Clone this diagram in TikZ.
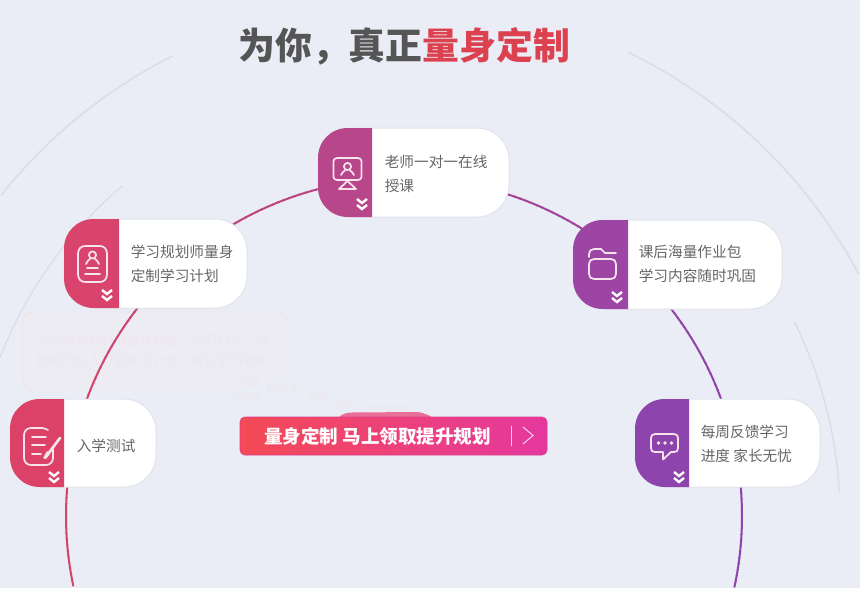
\documentclass[tikz,border=0pt]{standalone}
\usepackage{fontspec}
\newfontfamily\cjk{Noto Sans CJK SC}
\definecolor{bgc}{HTML}{EAEDF5}
\definecolor{arcR}{HTML}{D2446A}
\definecolor{arcP}{HTML}{8E44AD}
\definecolor{decor}{HTML}{DCDEE7}
\definecolor{bord}{HTML}{E3E4EB}
\definecolor{icon}{HTML}{F7E3EC}
\definecolor{ttxt}{HTML}{EDE6EE}
\definecolor{tbord}{HTML}{F0E4EB}
\definecolor{tfill}{HTML}{EDECF3}
\definecolor{btnL}{HTML}{F34A55}
\definecolor{btnR}{HTML}{E5389F}
\definecolor{btnB}{HTML}{DE3F8C}
\definecolor{hump}{HTML}{EA6F98}
\definecolor{titleG}{HTML}{555555}
\definecolor{titleR}{HTML}{DC4150}
\definecolor{ctxt}{HTML}{666666}
\definecolor{pa}{HTML}{DC4168}
\definecolor{pb}{HTML}{D9446D}
\definecolor{pc}{HTML}{B8468A}
\definecolor{pd}{HTML}{9C45A5}
\definecolor{pe}{HTML}{8E44AD}
\newcommand{\gradarc}[2]{%
  \foreach \ang in {#1,...,#2}{%
    \pgfmathsetmacro\mixp{100-(338*cos(\ang)+338)/6.76}%
    \colorlet{segc}{arcR!\mixp!arcP}%
    \draw[color=segc,line width=1.5pt] plot[domain=\ang:\ang+1.2,samples=3,smooth] ({404+338*cos(\x)},{516+338*sin(\x)});
  }}
\newcommand{\decorarc}[4]{%
  \draw[color=decor,line width=#4] plot[domain=#2:#3,samples=60,smooth] ({404+#1*cos(\x)},{516+#1*sin(\x)});}
\newcommand{\stepcard}[7]{%
  % name x0 y0 x1 y1 split colour
  \node[cardbox,minimum width={(#4-#2)*0.75pt},minimum height={(#5-#3)*0.75pt}] (#1) at ({(#2+#4)/2},{(#3+#5)/2}) {};
  \fill[color=#7] (#6,#3) -- (#2+30,#3) .. controls (#2+13,#3) and (#2,#3+13) .. (#2,#3+30) -- (#2,#5-30) .. controls (#2,#5-13) and (#2+13,#5) .. (#2+30,#5) -- (#6,#5) -- cycle;
}
\newcommand{\chev}[2]{%
  \draw[color=white,line width=1.8pt,line join=miter] (#1-5,#2) -- (#1,#2+4) -- (#1+5,#2);
  \draw[color=white,line width=1.8pt,line join=miter] (#1-5,#2+6) -- (#1,#2+10) -- (#1+5,#2+6);}
\tikzset{
  cardbox/.style={draw=bord,line width=0.75pt,fill=white,rounded corners=24pt,inner sep=0pt},
  cardtxt/.style={anchor=west,align=left,inner sep=0pt,text=ctxt,font=\cjk\fontsize{11}{18}\selectfont},
  iconline/.style={color=icon,line width=1.3pt,line cap=round,line join=round},
  fainttxt/.style={inner sep=0pt,text=ttxt,font=\cjk\fontsize{8.5}{10}\selectfont}
}
\begin{document}
\begin{tikzpicture}[x=0.75pt,y=-0.75pt]
\useasboundingbox (0,0) rectangle (860,592);
\fill[color=white!97!bgc] (0,0) rectangle (860,592);
\fill[color=bgc] (0,0) rectangle (860,588);
% decorative arcs
\begin{scope}
\clip (0,0) rectangle (860,588);
\decorarc{515}{218.5}{243.3}{1.3pt}
\decorarc{515}{295.8}{332}{1.3pt}
\decorarc{434}{201}{229.5}{1pt}
\decorarc{436}{333.5}{356.8}{1.1pt}
\end{scope}
% tooltip
\fill[color=tfill] (33,312) -- (278,312) arc[start angle=270,end angle=360,radius=10] -- (288,378) -- (228,390) -- (33,390) arc[start angle=90,end angle=180,radius=10] -- (23,322) arc[start angle=180,end angle=270,radius=10] -- cycle;
\draw[color=tbord,line width=0.7pt] (228,390) -- (33,390) arc[start angle=90,end angle=180,radius=10] -- (23,322) arc[start angle=180,end angle=270,radius=10] -- (278,312) arc[start angle=270,end angle=360,radius=10] -- (288,378);
\node[inner sep=0pt,anchor=west,align=left,text=ttxt,font=\cjk\fontsize{9.65}{15}\selectfont] (tip) at (37,351) {学习规划师针对自身短板、学习时长、基\\础能力私人订制学习计划，保证学习效率};
\node[fainttxt] (f1) at (250,383.5) {习效};
\node[fainttxt] (f2) at (283,388) {效效率};
\node[fainttxt] (f3) at (245,397.5) {习效率};
\node[fainttxt,font=\cjk\fontsize{7.5}{9}\selectfont] (f4) at (318,397) {效率};
\node[fainttxt,font=\cjk\fontsize{6}{7}\selectfont] (f5) at (306,389) {大};
\node[fainttxt,font=\cjk\fontsize{6}{7}\selectfont] (f6) at (343,405) {效率};
\node[fainttxt,font=\cjk\fontsize{5}{6}\selectfont] (f7) at (388,408) {效率效率效率};
% main circle
\begin{scope}
\clip (0,0) rectangle (860,587);
\gradarc{168}{192}
\gradarc{192}{228}
\gradarc{228}{270}
\gradarc{270}{312}
\gradarc{312}{347}
\gradarc{347}{371}
\end{scope}
% cards
\stepcard{c1}{10}{399}{156}{487}{64}{pa}
\stepcard{c2}{64}{219}{247}{308}{119}{pb}
\stepcard{c3}{318}{128}{509}{217}{372}{pc}
\stepcard{c4}{573}{220}{782}{309}{628}{pd}
\stepcard{c5}{635}{399}{820}{487}{689}{pe}
\node[cardtxt] (t1) at (76.5,446) {入学测试};
\node[cardtxt] (t2) at (130.5,264) {学习规划师量身\\定制学习计划};
\node[cardtxt] (t3) at (384.5,174) {老师一对一在线\\授课};
\node[cardtxt] (t4) at (638.5,264) {课后海量作业包\\学习内容随时巩固};
\node[cardtxt] (t5) at (700.5,444) {每周反馈学习\\进度 家长无忧};
\chev{54}{472}\chev{107}{290}\chev{362}{199}\chev{617}{292}\chev{679}{472}
% icon 1: paper and pen
\draw[iconline] (48,430) .. controls (46,429) and (44,428) .. (42,428) -- (31,428) .. controls (27,428) and (24,431) .. (24,435) -- (24,458) .. controls (24,462) and (27,465) .. (31,465) -- (46,465) .. controls (50,465) and (53,462) .. (53,458) -- (53,449);
\draw[iconline] (32,437) -- (46,437) (32,445) -- (45,445) (32,454) -- (41,454);
\draw[iconline,line width=2pt] (60,438) -- (48,454);
\fill[color=icon] (47,451) -- (50,454) -- (46,459) -- (43,458) -- cycle;
% icon 2: person card
\draw[iconline] (78,254) .. controls (78,249) and (81,246) .. (85,246) -- (100,246) .. controls (104,246) and (107,249) .. (107,254) -- (107,274) .. controls (107,279) and (104,282) .. (100,282) -- (85,282) .. controls (81,282) and (78,279) .. (78,274) -- cycle;
\draw[iconline] (92.5,255) circle[radius=3.6];
\draw[iconline] (86,264) .. controls (87,261) and (89,259.5) .. (90,259) (99,264) .. controls (98,261) and (96,259.5) .. (95,259);
\draw[iconline] (87,268) -- (98,268) (85,274) -- (100,274);
% icon 3: screen
\draw[iconline] (337,158) -- (358,158) .. controls (360,158) and (361.5,159.5) .. (361.5,161) -- (361.5,177) .. controls (361.5,178.5) and (360,180) .. (358,180) -- (337,180) .. controls (335,180) and (333.5,178.5) .. (333.5,177) -- (333.5,161) .. controls (333.5,159.5) and (335,158) .. (337,158) -- cycle;
\draw[iconline] (347.5,166.5) circle[radius=3.6];
\draw[iconline] (341,175) .. controls (342,172.5) and (344,171) .. (345,170.5) (354,175) .. controls (353,172.5) and (351,171) .. (350,170.5);
\draw[iconline] (347.5,181) -- (339,189) -- (356,189) -- cycle;
% icon 4: folder
\draw[iconline] (589,257) -- (589,254) .. controls (589,251) and (591,249) .. (594,249) -- (601,249) -- (605,253) -- (616,253);
\draw[iconline] (594,259) -- (611,259) .. controls (614,259) and (616,261) .. (616,264) -- (616,274) .. controls (616,277) and (614,279) .. (611,279) -- (594,279) .. controls (591,279) and (589,277) .. (589,274) -- (589,264) .. controls (589,261) and (591,259) .. (594,259) -- cycle;
% icon 5: speech bubble
\draw[iconline] (655,434) -- (674,434) .. controls (677,434) and (678,436) .. (678,438) -- (678,448) .. controls (678,451) and (677,452) .. (674,452) -- (671,452) -- (663,459.5) -- (663,452) -- (655,452) .. controls (652,452) and (651,451) .. (651,448) -- (651,438) .. controls (651,436) and (652,434) .. (655,434) -- cycle;
\fill[color=icon] (658.5,443) circle[radius=1.8] (665,443) circle[radius=1.8] (671.5,443) circle[radius=1.8];
% button
\fill[color=hump] (338,418) .. controls (342,414) and (346,412.5) .. (352,412.5) -- (418,412) .. controls (424,413) and (429,415) .. (433,418) -- cycle;
\node[minimum width=230.25pt,minimum height=28.5pt,inner sep=0pt,rounded corners=3.5pt,left color=btnL,right color=btnR,draw=btnB,line width=0.4pt] (btn) at (393.5,436) {};
\node[inner sep=0pt,anchor=west,text=white,font=\cjk\bfseries\fontsize{13.9}{16}\selectfont] (btxt) at (264,436) {量身定制 马上领取提升规划};
\draw[color=white!75!btnR,line width=0.6pt] (511,426) -- (511,446);
\draw[color=white!75!btnR,line width=0.8pt] (523,427) -- (533,435.5) -- (523,444);
% title
\node[inner sep=0pt,anchor=west,font=\cjk\bfseries\fontsize{27.65}{30}\selectfont] (title) at (238,46) {\textcolor{titleG}{为你，真正}\textcolor{titleR}{量身定制}};
\end{tikzpicture}
\end{document}
